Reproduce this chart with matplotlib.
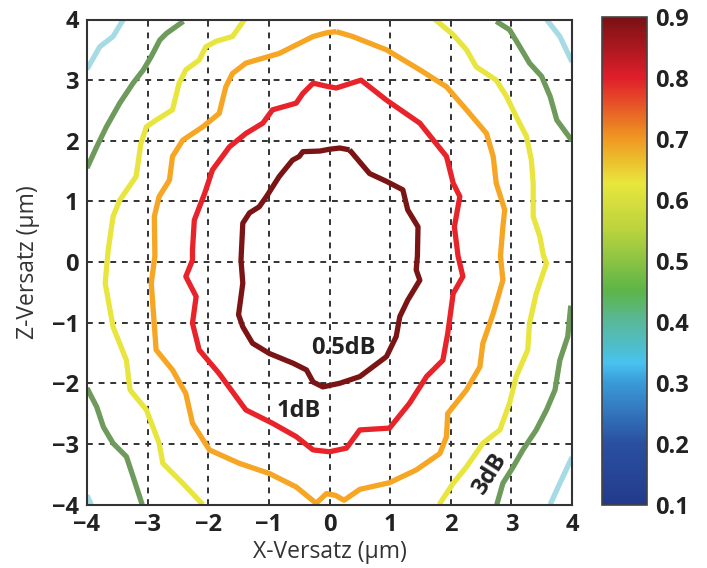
import numpy as np
import matplotlib
matplotlib.use("Agg")
import matplotlib.pyplot as plt
from matplotlib.colors import LinearSegmentedColormap, Normalize
from matplotlib.cm import ScalarMappable

plt.rcParams['font.family'] = ['Open Sans', 'DejaVu Sans']

# contour lines (x, z in um)
c05_x = [0.33, 0.17, 0.0, -0.16, -0.44, -0.5, -0.61, -0.83, -1.04, -1.16, -1.32, -1.43, -1.46, -1.43, -1.5,
         -1.43, -1.27, -0.99, -0.6, -0.38, -0.27, -0.11, 0.17, 0.5, 0.94, 1.1, 1.16, 1.29, 1.49, 1.43, 1.45,
         1.46, 1.29, 1.21, 0.94, 0.66, 0.33]
c05_y = [1.85, 1.88, 1.86, 1.83, 1.82, 1.74, 1.68, 1.41, 1.08, 0.91, 0.81, 0.64, 0.03, -0.35, -0.87,
         -1.07, -1.34, -1.51, -1.67, -1.78, -1.98, -2.06, -2.0, -1.89, -1.56, -1.23, -0.9, -0.63, -0.3, -0.13, 0.1,
         0.58, 0.86, 1.19, 1.33, 1.46, 1.85]

c1_x = [0.94, 0.52, 0.11, -0.05, -0.27, -0.44, -0.55, -0.94, -1.1, -1.38, -1.65, -1.93, -2.06, -2.23, -2.26,
        -2.26, -2.37, -2.2, -2.26, -2.15, -1.82, -1.38, -0.94, -0.55, -0.27, 0.0, 0.28, 0.5, 0.99, 1.32, 1.6,
        1.87, 1.95, 2.04, 2.2, 2.12, 2.06, 2.15, 2.04, 1.93, 1.49, 0.94]
c1_y = [2.67, 3.0, 2.87, 2.9, 2.95, 2.78, 2.62, 2.51, 2.29, 2.12, 1.9, 1.52, 1.13, 0.69, 0.2,
        0.03, -0.24, -0.57, -1.01, -1.45, -1.84, -2.44, -2.66, -2.88, -3.1, -3.13, -3.07, -2.77, -2.74, -2.33, -1.89,
        -1.62, -1.18, -0.52, -0.24, 0.1, 0.58, 1.08, 1.3, 1.74, 2.29, 2.67]

c_or_x = [0.11, -0.05, -0.27, -0.83, -1.38, -1.6, -1.71, -1.82, -2.09, -2.42, -2.59, -2.64, -2.81, -2.89,
          -2.88, -2.94, -2.86, -2.59, -2.37, -2.26, -1.98, -1.49, -0.99, -0.55, -0.22, -0.05, 0.1, 0.24, 0.5,
          0.99, 1.43, 1.82, 1.93, 1.95, 2.26, 2.48, 2.53, 2.7, 2.86, 2.82, 2.86, 2.89, 2.75, 2.7, 2.59, 2.26,
          1.93, 1.49, 0.94, 0.38, 0.11]
c_or_y = [3.8, 3.78, 3.72, 3.44, 3.28, 3.11, 2.89, 2.45, 2.23, 2.01, 1.74, 1.35, 1.08, 0.75,
          0.1, -0.35, -1.45, -1.78, -2.17, -2.66, -3.1, -3.32, -3.49, -3.71, -3.98, -3.82, -3.85, -3.93, -3.75,
          -3.64, -3.43, -3.16, -2.88, -2.5, -2.11, -1.73, -1.34, -0.85, -0.3, 0.1, 0.58, 0.86, 1.3, 1.74, 2.12, 2.51,
          2.89, 3.17, 3.5, 3.72, 3.8]

c_ye_l_x = [-1.4, -1.6, -1.87, -2.04, -2.15, -2.37, -2.48, -2.59, -2.86, -3.02, -3.11, -3.19, -3.46, -3.57, -3.65,
            -3.7, -3.57, -3.35, -3.29, -3.02, -2.81, -2.75, -2.42, -2.09]
c_ye_l_y = [4.0, 3.72, 3.64, 3.55, 3.33, 3.17, 2.95, 2.51, 2.34, 2.23, 1.96, 1.41, 1.02, 0.75, 0.2,
            -0.35, -1.07, -1.62, -2.11, -2.44, -2.99, -3.32, -3.65, -4.0]
c_ye_r_x = [1.74, 2.04, 2.26, 2.42, 2.75, 2.92, 3.08, 3.25, 3.33, 3.36, 3.36, 3.47, 3.53, 3.58, 3.41, 3.3, 3.27,
            3.08, 2.97, 2.81, 2.53, 2.26, 2.04, 1.81]
c_ye_r_y = [4.0, 3.75, 3.5, 3.22, 3.0, 2.73, 2.4, 2.07, 1.68, 1.3, 0.75, 0.42, 0.1, -0.02, -0.52, -1.01, -1.45,
            -1.89, -2.33, -2.77, -2.99, -3.38, -3.65, -4.0]

c_gr_tl_x = [-2.41, -2.69, -2.8, -2.94, -3.07, -3.24, -3.46, -3.68, -3.84, -4.0]
c_gr_tl_y = [3.97, 3.77, 3.66, 3.39, 3.17, 2.95, 2.62, 2.23, 1.9, 1.55]
c_gr_bl_x = [-4.0, -3.84, -3.73, -3.57, -3.35, -3.24, -3.09]
c_gr_bl_y = [-2.08, -2.39, -2.72, -2.99, -3.21, -3.54, -4.0]
c_gr_tr_x = [2.75, 2.97, 3.14, 3.3, 3.5, 3.64, 3.75, 4.0]
c_gr_tr_y = [3.97, 3.83, 3.55, 3.28, 3.06, 2.73, 2.34, 2.0]
c_gr_br_x = [3.98, 3.93, 3.8, 3.72, 3.58, 3.41, 3.19, 3.03, 2.86, 2.76]
c_gr_br_y = [-0.72, -1.23, -1.62, -2.11, -2.44, -2.77, -3.1, -3.38, -3.65, -4.0]

c_bl_tl_x = [-3.4, -3.57, -3.79, -4.0]
c_bl_tl_y = [4.0, 3.72, 3.55, 3.18]
c_bl_tr_x = [3.58, 3.8, 4.0]
c_bl_tr_y = [4.0, 3.72, 3.3]
c_bl_br_x = [4.0, 3.8, 3.64]
c_bl_br_y = [-3.22, -3.65, -4.0]
c_bl_bl_x = [-4.0, -3.93]
c_bl_bl_y = [-3.85, -4.0]

ticks = [-4, -3, -2, -1, 0, 1, 2, 3, 4]
cbar_ticks = [0.1, 0.2, 0.3, 0.4, 0.5, 0.6, 0.7, 0.8, 0.9]

cmap_pos = [0.0, 0.125, 0.25, 0.29, 0.375, 0.44, 0.56, 0.66, 0.75, 0.875, 1.0]
cmap_col = ['#233a8c', '#2a50a0', '#3a9ad8', '#48c2ee', '#58b89a', '#5db548', '#b8d23e', '#e8e63c',
            '#ef9a22', '#e01f2b', '#7a1114']
cmap = LinearSegmentedColormap.from_list('mycmap', list(zip(cmap_pos, cmap_col)))

col_dark = '#7b1414'
col_red = '#e8242a'
col_orange = '#f6a623'
col_yellow = '#e8e63e'
col_green = '#6e9a5c'
col_blue = '#a6dbe6'
lw = 3.8
line_kw = dict(lw=lw, solid_joinstyle='round', solid_capstyle='butt')

fig = plt.figure(figsize=(7.07, 5.68), dpi=100)
ax = fig.add_axes([87 / 707, 1 - 504.5 / 568, 485 / 707, 485 / 568])

ax.plot(c_bl_tl_x, c_bl_tl_y, color=col_blue, **line_kw)
ax.plot(c_bl_tr_x, c_bl_tr_y, color=col_blue, **line_kw)
ax.plot(c_bl_br_x, c_bl_br_y, color=col_blue, **line_kw)
ax.plot(c_bl_bl_x, c_bl_bl_y, color=col_blue, **line_kw)
ax.plot(c_gr_tl_x, c_gr_tl_y, color=col_green, **line_kw)
ax.plot(c_gr_bl_x, c_gr_bl_y, color=col_green, **line_kw)
ax.plot(c_gr_tr_x, c_gr_tr_y, color=col_green, **line_kw)
ax.plot(c_gr_br_x, c_gr_br_y, color=col_green, **line_kw)
ax.plot(c_ye_l_x, c_ye_l_y, color=col_yellow, **line_kw)
ax.plot(c_ye_r_x, c_ye_r_y, color=col_yellow, **line_kw)
ax.plot(c_or_x, c_or_y, color=col_orange, **line_kw)
ax.plot(c1_x, c1_y, color=col_red, **line_kw)
ax.plot(c05_x, c05_y, color=col_dark, **line_kw)

ax.set_xlim(-4, 4)
ax.set_ylim(-4, 4)
ax.set_xticks(ticks)
ax.set_yticks(ticks)
ax.grid(True, color='#333333', linestyle=(0, (3, 3)), linewidth=1.4)
ax.set_axisbelow(True)
for s in ax.spines.values():
    s.set_linewidth(1.5)
    s.set_color('#333333')
ax.tick_params(length=0, pad=6, labelsize=17, labelcolor='#222222')
for lab in ax.get_xticklabels() + ax.get_yticklabels():
    lab.set_fontweight('bold')

ax.set_xlabel('X-Versatz (µm)', fontsize=16.5, color='#333333', labelpad=2)
ax.set_ylabel('Z-Versatz (µm)', fontsize=16.5, color='#333333', labelpad=8)

ax.text(0.23, -1.42, '0.5dB', fontsize=17, fontweight='bold', color='#222222', ha='center', va='center')
ax.text(-0.5, -2.46, '1dB', fontsize=17, fontweight='bold', color='#222222', ha='center', va='center')
ax.text(2.64, -3.5, '3dB', fontsize=17, fontweight='bold', color='#222222', ha='center', va='center',
        rotation=58)

cax = fig.add_axes([602 / 707, 1 - 505 / 568, 45 / 707, 488 / 568])
sm = ScalarMappable(norm=Normalize(0.1, 0.9), cmap=cmap)
cb = fig.colorbar(sm, cax=cax, ticks=cbar_ticks)
cb.outline.set_edgecolor('#444444')
cb.outline.set_linewidth(1.2)
cax.tick_params(length=0, pad=6, labelsize=17, labelcolor='#222222')
for lab in cax.get_yticklabels():
    lab.set_fontweight('bold')

fig.savefig('out.png', dpi=100)
